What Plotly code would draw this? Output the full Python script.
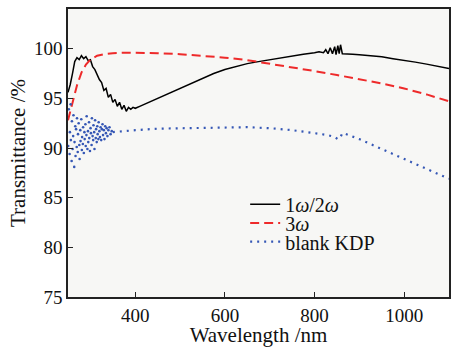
import plotly.graph_objects as go

# ---- data ----
wl_black = [250, 255, 260, 265, 270, 275, 280, 285, 290, 295, 300, 305, 310, 315, 320,
            325, 330, 335, 340, 345, 350, 355, 360, 365, 370, 375, 380, 385, 390, 395,
            400, 410, 420, 435, 450, 475, 500, 525, 550, 575, 600, 625, 650, 675, 700,
            725, 750, 775, 800, 810, 820, 825, 830, 835, 840, 845, 848, 852, 855, 858,
            862, 870, 885, 900, 925, 950, 975, 1000, 1025, 1050, 1075, 1100]
t_black = [95.6, 96.4, 97.5, 98.7, 99.1, 98.9, 99.3, 99.0, 99.2, 98.8, 98.9, 98.2, 97.9, 97.3, 96.9,
           96.6, 95.8, 96.0, 95.1, 95.4, 94.6, 94.9, 94.2, 94.6, 93.9, 94.3, 93.7, 94.1, 93.9, 94.1,
           94.0, 94.2, 94.4, 94.7, 95.0, 95.5, 96.0, 96.5, 97.0, 97.5, 97.9, 98.2, 98.5, 98.7, 98.9,
           99.1, 99.3, 99.45, 99.6, 99.7, 99.6, 99.9, 99.5, 100.1, 99.5, 100.2, 99.4, 100.3, 99.5, 100.4,
           99.5, 99.5, 99.45, 99.4, 99.3, 99.2, 99.0, 98.85, 98.65, 98.45, 98.25, 98.0]

wl_red = [250, 260, 270, 280, 290, 300, 315, 330, 350, 380, 400, 450, 500, 550, 600,
          650, 700, 750, 800, 850, 900, 950, 1000, 1050, 1100]
t_red = [92.8, 94.6, 96.3, 97.6, 98.4, 98.9, 99.3, 99.45, 99.55, 99.6, 99.6, 99.55, 99.45, 99.3, 99.1,
         98.85, 98.5, 98.15, 97.75, 97.35, 96.95, 96.5, 96.0, 95.4, 94.7]

# noisy start of the blank KDP curve
wl_kdp_noise = [250.5, 251.8, 253.6, 254.2, 255.9, 256.4, 258.1, 258.7, 260.3, 261.5, 262.2, 263.9, 264.6, 266.2, 266.8,
                268.0, 269.4, 270.1, 271.7, 272.3, 273.8, 275.2, 275.9, 277.4, 278.0, 279.6, 280.9, 281.5, 283.1, 283.7,
                285.3, 286.6, 287.2, 288.8, 289.5, 291.1, 291.7, 293.3, 294.6, 295.2, 296.9, 297.4, 299.0, 300.3, 301.1,
                302.6, 303.3, 304.9, 306.2, 306.8, 308.4, 309.1, 310.5, 311.9, 312.6, 314.1, 315.3, 316.2, 317.8, 318.4,
                320.0, 321.3, 322.7, 324.1, 325.5, 327.0, 328.2, 329.9, 331.4, 333.0, 334.6, 336.1, 338.0, 340.2, 342.5,
                345.0, 347.6]
t_kdp_noise = [90.2, 93.9, 89.4, 91.6, 94.4, 90.8, 88.7, 92.7, 89.9, 91.2, 93.3, 88.1, 90.6, 92.2, 89.2,
               91.9, 90.1, 93.0, 89.6, 91.4, 92.5, 90.3, 88.9, 91.8, 90.7, 92.9, 89.8, 91.1, 90.4, 92.1,
               89.5, 91.6, 90.9, 92.4, 90.2, 91.3, 93.2, 89.9, 91.7, 90.6, 92.6, 91.0, 89.7, 92.0, 91.5,
               90.3, 93.0, 91.2, 90.8, 92.3, 91.6, 89.9, 92.8, 91.0, 91.9, 90.6, 92.2, 91.4, 90.9, 92.6,
               91.7, 91.1, 92.1, 90.8, 91.9, 92.4, 91.3, 91.8, 90.9, 92.2, 91.5, 92.0, 91.2, 91.8, 92.1,
               91.4, 91.7]

wl_kdp = [350, 370, 400, 450, 500, 550, 600, 650, 700, 750, 800, 830, 845, 852, 857,
          862, 868, 900, 950, 1000, 1050, 1100]
t_kdp = [91.6, 91.7, 91.8, 91.95, 92.0, 92.05, 92.1, 92.1, 92.0, 91.8, 91.5, 91.3, 91.1, 90.9, 91.0,
         91.5, 91.45, 90.9, 89.9, 88.9, 87.9, 86.9]

x_ticks = [400, 600, 800, 1000]
y_ticks = [75, 80, 85, 90, 95, 100]

FONT = "Liberation Serif, Times New Roman, DejaVu Serif, serif"
TXT = "#111"

fig = go.Figure()
fig.add_trace(go.Scatter(x=wl_black, y=t_black, mode="lines", name="1<i>ω</i>/2<i>ω</i>",
                         line=dict(color="black", width=1.5), legend="legend"))
fig.add_trace(go.Scatter(x=wl_red, y=t_red, mode="lines", name="3<i>ω</i>",
                         line=dict(color="#ee2a2a", width=2, dash="9px,5px"), legend="legend2"))
fig.add_trace(go.Scatter(x=wl_kdp, y=t_kdp, mode="lines", name="blank KDP",
                         line=dict(color="#3557b5", width=2.2, dash="2px,5px"), legend="legend3"))
fig.add_trace(go.Scatter(x=wl_kdp_noise, y=t_kdp_noise, mode="markers", showlegend=False,
                         marker=dict(color="#3557b5", size=2.6)))

axis_common = dict(showline=True, linecolor="#222", linewidth=1.5, mirror=True,
                   ticks="inside", ticklen=5, tickwidth=1.2, tickcolor="#222",
                   showgrid=False, zeroline=False,
                   tickfont=dict(family=FONT, size=19, color=TXT))

fig.update_xaxes(range=[250, 1100], tickvals=x_ticks,
                 title=dict(text="Wavelength /nm", font=dict(family=FONT, size=21, color=TXT), standoff=0),
                 **axis_common)
fig.update_yaxes(range=[75, 104], tickvals=y_ticks,
                 title=dict(text="Transmittance /%", font=dict(family=FONT, size=21, color=TXT), standoff=3),
                 **axis_common)

leg = dict(xanchor="left", yanchor="middle", bgcolor="rgba(0,0,0,0)", borderwidth=0,
           font=dict(family=FONT, size=20, color=TXT), itemwidth=30)
fig.update_layout(
    width=459, height=347,
    margin=dict(l=68, r=10, t=7, b=48),
    paper_bgcolor="white", plot_bgcolor="#f7f7f5",
    font=dict(family=FONT, color=TXT),
    showlegend=True,
    legend=dict(x=0.465, y=0.322, **leg),
    legend2=dict(x=0.465, y=0.257, **leg),
    legend3=dict(x=0.465, y=0.192, **leg),
)

fig.write_html("out.html", config={"displayModeBar": False},
               post_script="document.body.style.margin='0';")
